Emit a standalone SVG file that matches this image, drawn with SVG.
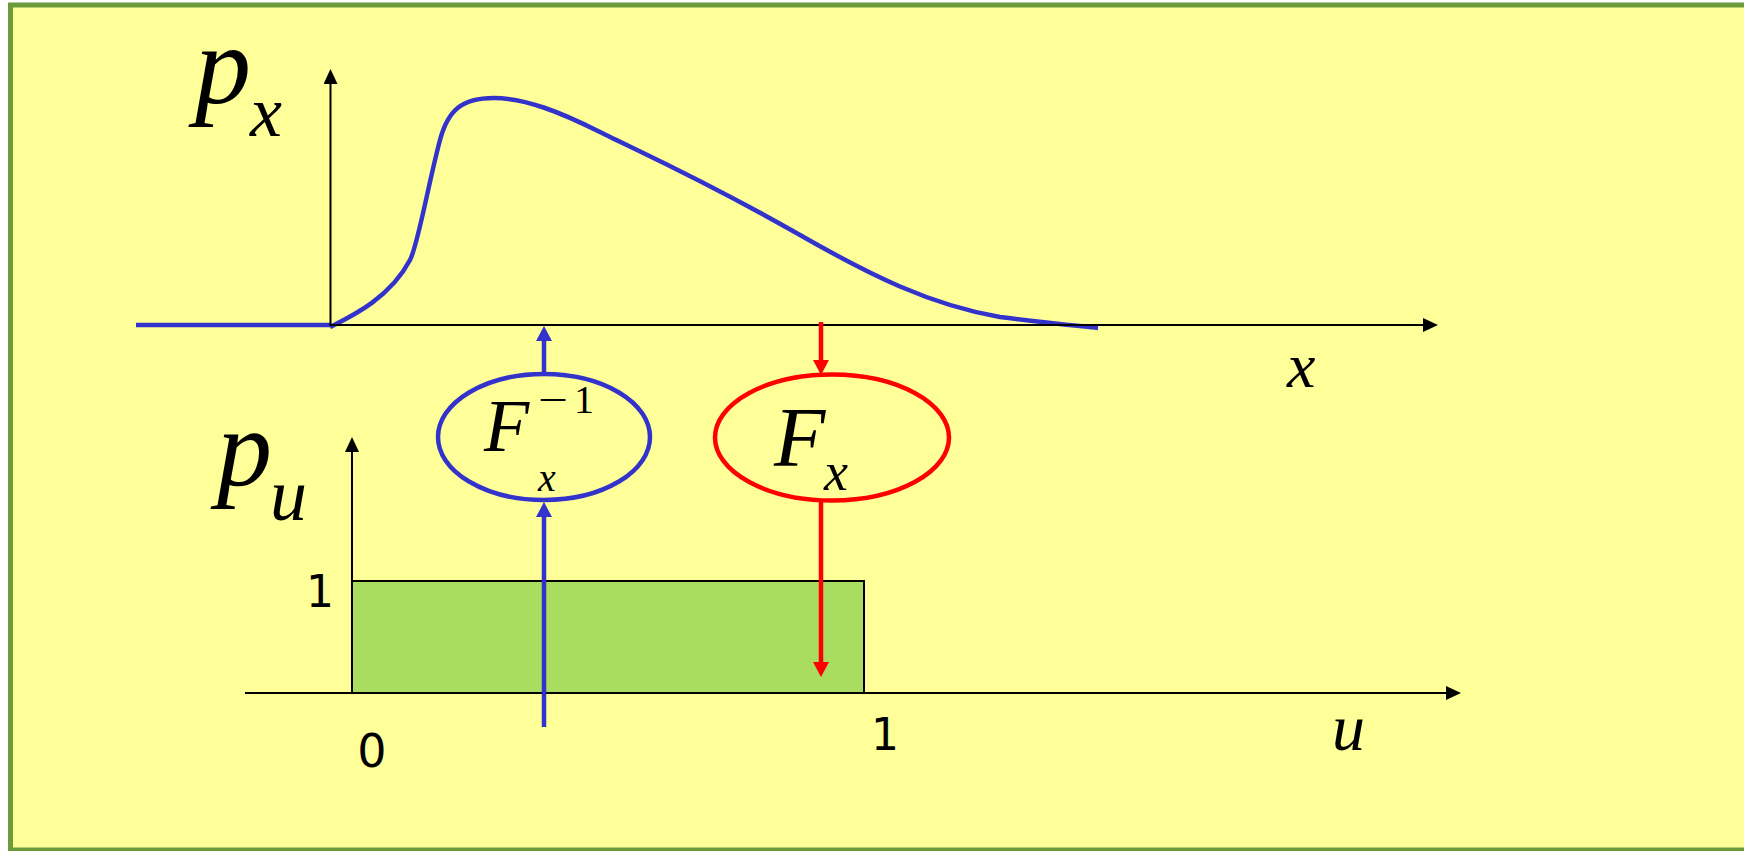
<svg xmlns="http://www.w3.org/2000/svg" width="1744" height="851" viewBox="0 0 1744 851">
  <style>
    .math { font-family: "Liberation Serif", "Times New Roman", serif; font-style: italic; fill: #000; }
    .up { font-family: "Liberation Serif", "Times New Roman", serif; fill: #000; }
    .num { font-family: "DejaVu Sans", "Liberation Sans", sans-serif; fill: #000; text-anchor: middle; }
    .axis { stroke: #000; stroke-width: 2; fill: none; }
    .blue { stroke: #3333CC; stroke-width: 4.5; fill: none; }
    .red { stroke: #FF0000; stroke-width: 4.5; fill: none; }
  </style>
  <defs>
    <marker id="ahBlack" markerUnits="userSpaceOnUse" viewBox="0 0 15 14" refX="0" refY="7" markerWidth="15" markerHeight="14" orient="auto">
      <path d="M0,0 L15,7 L0,14 z" fill="#000"/>
    </marker>
    <marker id="ahBlue" markerUnits="userSpaceOnUse" viewBox="0 0 15 16" refX="0" refY="8" markerWidth="15" markerHeight="16" orient="auto">
      <path d="M0,0 L15,8 L0,16 z" fill="#3333CC"/>
    </marker>
    <marker id="ahRed" markerUnits="userSpaceOnUse" viewBox="0 0 15 16" refX="0" refY="8" markerWidth="15" markerHeight="16" orient="auto">
      <path d="M0,0 L15,8 L0,16 z" fill="#FF0000"/>
    </marker>
  </defs>

  <rect id="background" x="10.5" y="5" width="1800" height="845" fill="#FFFF99" stroke="#6B9B3A" stroke-width="5"/>

  <g id="uniform-density">
    <rect x="352" y="581" width="512" height="112" fill="#A8DD60" stroke="#000" stroke-width="2"/>
  </g>

  <g id="density-curve">
    <line x1="136" y1="325" x2="331" y2="325" stroke="#3333CC" stroke-width="4.5"/>
    <path class="blue" d="M330,327 C352,316 390,298 410,260 C418,245 428,185 440,140 C448,110 462,98 494,98 C525,98 560,112 600,132 C640,152 700,178 800,235 C870,275 930,305 1000,317 C1040,322 1070,325 1098,328"/>
  </g>

  <g id="connectors">
    <line class="axis" x1="330.5" y1="326" x2="330.5" y2="84" marker-end="url(#ahBlack)"/>
    <line class="axis" x1="330" y1="325" x2="1423" y2="325" marker-end="url(#ahBlack)"/>
    <line class="axis" x1="352" y1="693" x2="352" y2="452" marker-end="url(#ahBlack)"/>
    <line class="axis" x1="245" y1="693" x2="1446" y2="693" marker-end="url(#ahBlack)"/>
    <line class="blue" x1="544" y1="374" x2="544" y2="341" marker-end="url(#ahBlue)"/>
    <line class="blue" x1="544" y1="727" x2="544" y2="517" marker-end="url(#ahBlue)"/>
    <line class="red" x1="821" y1="322" x2="821" y2="360" marker-end="url(#ahRed)"/>
    <line class="red" x1="821" y1="501" x2="821" y2="662" marker-end="url(#ahRed)"/>
  </g>

  <g id="node-inverse-cdf">
    <ellipse cx="544" cy="437" rx="106" ry="63" fill="none" stroke="#3333CC" stroke-width="4.5"/>
    <text class="math" x="484" y="451" font-size="74">F</text>
    <text class="up" x="538" y="413" font-size="40" textLength="30" lengthAdjust="spacingAndGlyphs">−</text>
    <text class="up" x="574" y="413" font-size="40">1</text>
    <text class="math" x="538" y="491" font-size="40">x</text>
  </g>

  <g id="node-cdf">
    <ellipse cx="832" cy="437.5" rx="117" ry="63" fill="none" stroke="#FF0000" stroke-width="4.5"/>
    <text class="math" x="774" y="466" font-size="84">F</text>
    <text class="math" x="824" y="490" font-size="54">x</text>
  </g>

  <g id="labels">
    <text class="math" x="195" y="103" font-size="112">p</text>
    <text class="math" x="250" y="136" font-size="72">x</text>
    <text class="math" x="1287" y="387" font-size="64">x</text>
    <text class="math" x="217" y="486" font-size="110">p</text>
    <text class="math" x="270" y="520" font-size="74">u</text>
    <text class="math" x="1332" y="750" font-size="66">u</text>
    <text class="num" x="320" y="607" font-size="44">1</text>
    <text class="num" x="372" y="767" font-size="46">0</text>
    <text class="num" x="885" y="750" font-size="44">1</text>
  </g>
</svg>
